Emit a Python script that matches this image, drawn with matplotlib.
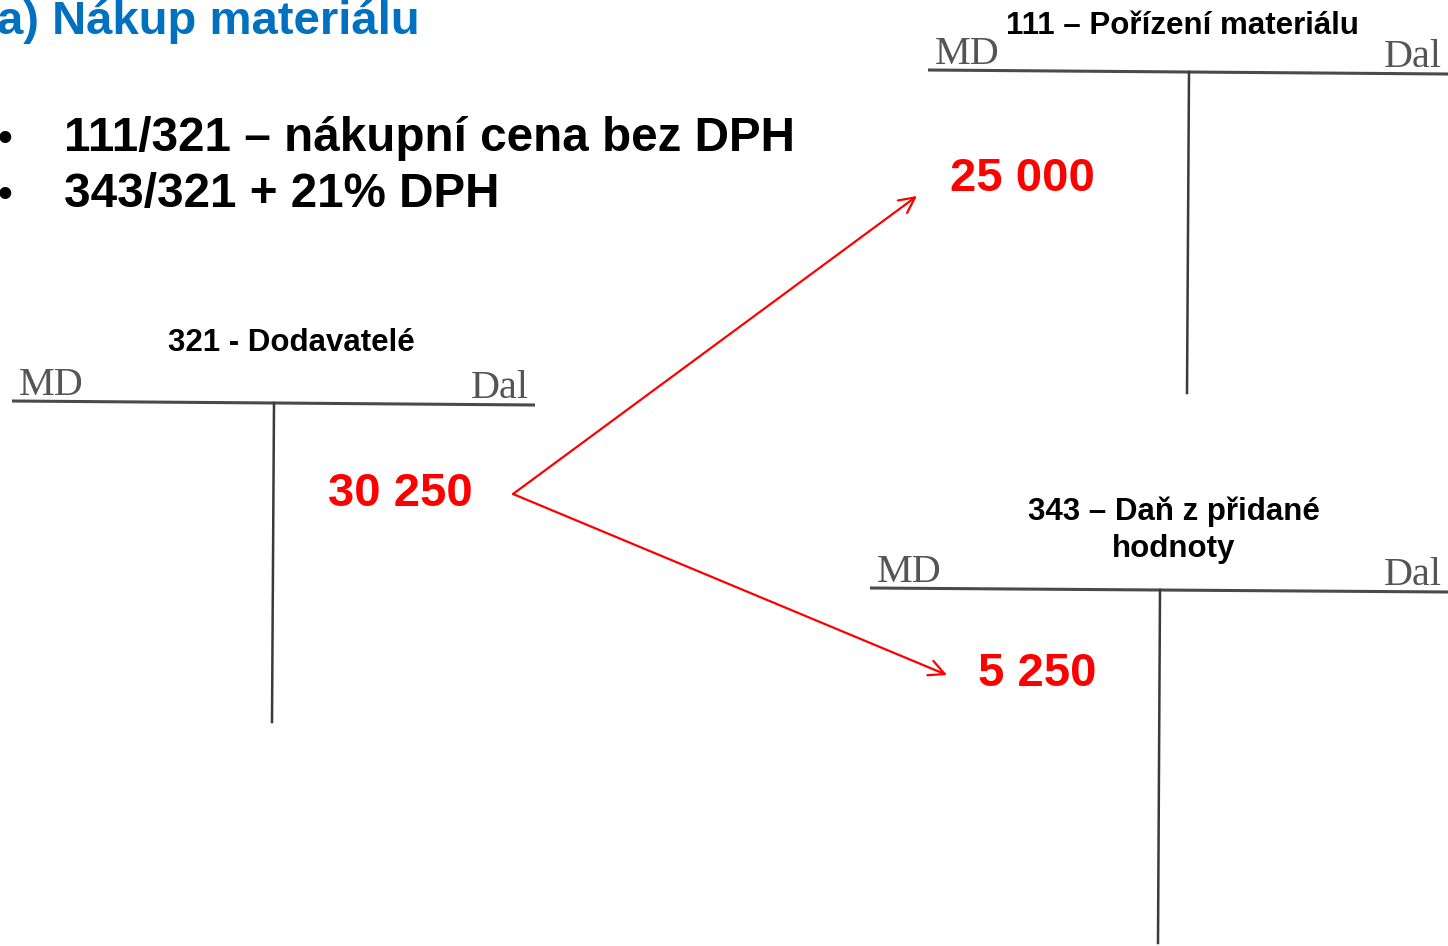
import matplotlib.pyplot as plt

plt.rcParams['font.family'] = ['Liberation Sans', 'DejaVu Sans']

# --- content ---
heading = 'a) Nákup materiálu'
bullets = ['111/321 – nákupní cena bez DPH', '343/321 + 21% DPH']

account_titles = ['321 - Dodavatelé', '111 – Pořízení materiálu', '343 – Daň z přidané\nhodnoty']
amounts = ['30 250', '25 000', '5 250']

# --- layout (pixel coords, y down) ---
# T-account: left, right, y of bar, x of stem, stem bottom
t_left = [12, 928, 870]
t_right = [535, 1448, 1448]
t_bar_y = [403, 72, 590]
t_stem_x = [274, 1189, 1160]
t_stem_end = [722, 393, 943]
title_xy = [(291, 343), (1182, 26), (1174, 530)]
amount_xy = [(400, 490), (1022, 175), (1037, 670)]
arrow_start = (513, 494)
arrow_ends = [(917, 196), (947, 675)]

fig = plt.figure(figsize=(14.48, 9.46), dpi=100)
ax = fig.add_axes([0, 0, 1, 1])
ax.set_xlim(0, 1448)
ax.set_ylim(946, 0)
ax.axis('off')

ax.text(-3, 34, heading, color='#0070C0', fontsize=34, fontweight='bold',
        ha='left', va='baseline')
for i, b in enumerate(bullets):
    y = 151 + i * 56
    ax.text(-2, y, '•', fontsize=30, fontweight='bold', ha='left', va='baseline')
    ax.text(64, y, b, fontsize=34.3, fontweight='bold', ha='left', va='baseline')

for i in range(3):
    ax.plot([t_left[i], t_right[i]], [t_bar_y[i] - 2, t_bar_y[i] + 2],
            color='#4a4a4a', lw=2.2, solid_capstyle='butt')
    ax.plot([t_stem_x[i], t_stem_x[i] - 2], [t_bar_y[i], t_stem_end[i]],
            color='#3a3a3a', lw=1.8)
    ax.text(t_left[i] + 7, t_bar_y[i] - 8, 'MD', family='Liberation Serif',
            fontsize=29, color='#555555', ha='left', va='baseline')
    ax.text(t_right[i] - 6, t_bar_y[i] - 5, 'Dal', family='Liberation Serif',
            fontsize=29, color='#555555', ha='right', va='baseline')
    tx, ty = title_xy[i]
    ax.text(tx, ty, account_titles[i], fontsize=22.5, fontweight='bold',
            ha='center', va='center', linespacing=1.3)
    axx, axy = amount_xy[i]
    ax.text(axx, axy + 4, amounts[i], color='#FF0000', fontsize=34,
            fontweight='bold', ha='center', va='center')

for end in arrow_ends:
    ax.annotate('', xy=end, xytext=arrow_start,
                arrowprops=dict(arrowstyle='->', color='#FF0000', lw=1.6,
                                mutation_scale=28, shrinkA=0, shrinkB=0))

fig.savefig('out.png', dpi=100)
